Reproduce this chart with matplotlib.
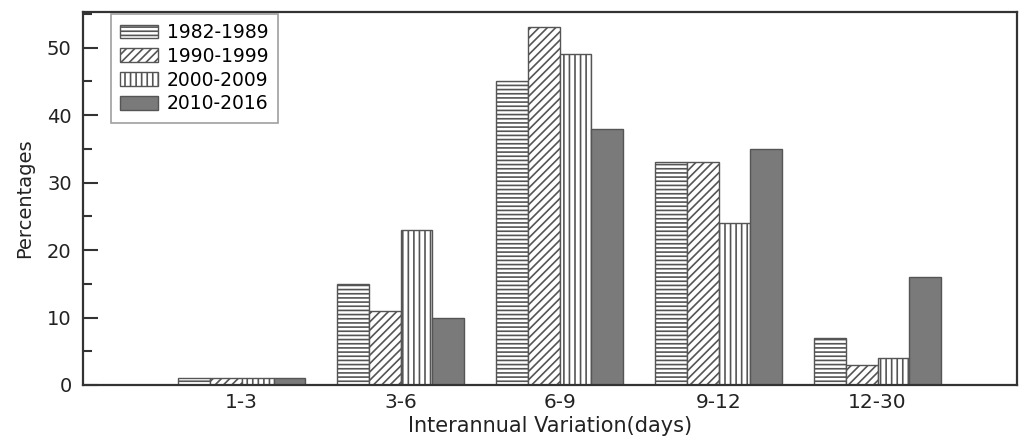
import numpy as np
import matplotlib
matplotlib.use("Agg")
import matplotlib.pyplot as plt
from matplotlib.ticker import MultipleLocator

# data
categories = ["1-3", "3-6", "6-9", "9-12", "12-30"]
periods = ["1982-1989", "1990-1999", "2000-2009", "2010-2016"]
pct_1982_1989 = [1, 15, 45, 33, 7]
pct_1990_1999 = [1, 11, 53, 33, 3]
pct_2000_2009 = [1, 23, 49, 24, 4]
pct_2010_2016 = [1, 10, 38, 35, 16]
series = [pct_1982_1989, pct_1990_1999, pct_2000_2009, pct_2010_2016]

hatches = ["----", "////", "|||", ""]
faces = ["white", "white", "white", "#7a7a7a"]

plt.rcParams["hatch.linewidth"] = 1.2
plt.rcParams["hatch.color"] = "#111111"

fig = plt.figure(figsize=(10.35, 4.41), dpi=100)
ax = fig.add_axes([0.080, 0.127, 0.903, 0.846])

x = np.arange(1, len(categories) + 1)
width = 0.2
for i, (vals, lab) in enumerate(zip(series, periods)):
    offs = (i - 1.5) * width
    ax.bar(x + offs, vals, width, label=lab, facecolor=faces[i],
           edgecolor="#555555", linewidth=1.0, hatch=hatches[i])

ax.set_xlim(0, 5.88)
ax.set_ylim(0, 55.3)
ax.set_xticks(x)
ax.set_xticklabels(categories)
ax.yaxis.set_major_locator(MultipleLocator(10))
ax.yaxis.set_minor_locator(MultipleLocator(5))
ax.tick_params(axis="y", which="major", direction="in", length=11, width=1.5,
               color="#333333", labelsize=14, labelcolor="#222222", pad=8)
ax.tick_params(axis="y", which="minor", direction="in", length=6.5, width=1.5,
               color="#333333")
ax.tick_params(axis="x", length=0, labelsize=14.5, labelcolor="#222222", pad=6)

for s in ax.spines.values():
    s.set_color("#333333")
    s.set_linewidth(1.6)

ax.set_xlabel("Interannual Variation(days)", fontsize=15, color="#222222", labelpad=3)
ax.set_ylabel("Percentages", fontsize=14, color="#222222", labelpad=9)

leg = ax.legend(loc="upper left", bbox_to_anchor=(0.030, 0.995), borderaxespad=0,
                fontsize=13.5, fancybox=False, edgecolor="#888888",
                handlelength=2.0, handleheight=0.75, labelspacing=0.25,
                borderpad=0.5, handletextpad=0.5)
leg.get_frame().set_linewidth(1.2)

fig.savefig("out.png", dpi=100)
